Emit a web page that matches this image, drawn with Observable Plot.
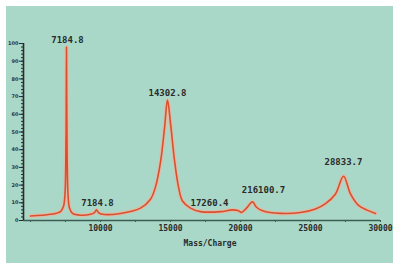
<!DOCTYPE html>
<html><head><meta charset="utf-8">
<script src="https://cdn.jsdelivr.net/npm/d3@7"></script>
<script src="https://cdn.jsdelivr.net/npm/@observablehq/plot@0.6"></script>
<style>
html,body{margin:0;padding:0;background:#fff;width:393px;height:263px;overflow:hidden;}
#wrap{position:absolute;left:6px;top:6px;width:387px;height:257px;background:#a9d8c8;}
#wrap svg{display:block;}
</style></head><body><div id="wrap"></div>
<script>
const mass = [5000, 6429, 7143, 7357, 7464, 7536, 7571, 7607, 7679, 7786, 8000, 8571, 9286, 9571, 9714, 9857, 10143, 11429, 12857, 13571, 13929, 14286, 14571, 14786, 15000, 15286, 15571, 15857, 16429, 17143, 18571, 19429, 19857, 20071, 20429, 20857, 21143, 21571, 22857, 24286, 25357, 26071, 26786, 27357, 27857, 28429, 29000, 29643];
const intensity = [2.5, 3.5, 5, 8, 15, 45, 98, 45, 15, 7, 4, 3, 3.5, 4.5, 6, 4.5, 3.5, 4, 7, 12, 19, 33, 52, 68, 55, 34, 19, 11, 7, 5, 5, 6, 5.5, 4.5, 7, 10.5, 7.5, 5.5, 4, 4.5, 6.5, 9.5, 15, 25, 15, 8.5, 6, 4];
const labelText = ["7184.8", "7184.8", "14302.8", "17260.4", "216100.7", "28833.7"];
const labelMass = [7643, 9786, 14786, 17786, 21643, 27357];
const labelValue = [101.7, 9.6, 71.8, 9.6, 16.9, 32.8];
const xTickValues = [10000, 15000, 20000, 25000, 30000];
const xMinorTicks = [5000, 7500, 10000, 12500, 15000, 17500, 20000, 22500, 25000, 27500, 30000];
const yTickValues = [0, 10, 20, 30, 40, 50, 60, 70, 80, 90, 100];
const yMinorTicks = d3.range(0, 101, 2);
const xTitle = "Mass/Charge";

const spectrum = mass.map((m, i) => ({m, v: intensity[i]}));
const labels = labelText.map((t, i) => ({t, m: labelMass[i], v: labelValue[i]}));

const chart = Plot.plot({
  width: 387, height: 257,
  marginLeft: 17, marginRight: 13, marginTop: 37, marginBottom: 43,
  style: {background: "transparent", color: "#333"},
  x: {domain: [4500, 30000]},
  y: {domain: [0, 100]},
  marks: [
    Plot.ruleY([0], {stroke: "#3d5c52", strokeWidth: 1.4}),
    Plot.ruleX([4500], {stroke: "#2b2b2b", strokeWidth: 1.6}),
    Plot.axisX({ticks: xMinorTicks, tickSize: 2, text: null, label: null, stroke: "#3d5c52"}),
    Plot.axisX({ticks: xTickValues, tickSize: 0, tickPadding: 5, tickFormat: d => String(d),
      fontSize: 8, fontWeight: "bold", fontFamily: "DejaVu Sans Mono", fill: "#2a2a2a", label: null, letterSpacing: "0.4px"}),
    Plot.axisY({ticks: yMinorTicks, tickSize: 2, text: null, label: null, stroke: "#2b2b2b"}),
    Plot.axisY({ticks: yTickValues, tickSize: 4, tickPadding: 1, fontSize: 5, fontWeight: "bold",
      fontFamily: "DejaVu Sans", fill: "#333", stroke: "#2b2b2b", label: null}),
    Plot.line(spectrum, {x: "m", y: "v", curve: "catmull-rom", stroke: "#f2b29a", strokeWidth: 4, strokeOpacity: 0.7}),
    Plot.line(spectrum, {x: "m", y: "v", curve: "catmull-rom", stroke: "#d9502f", strokeWidth: 1.6}),
    Plot.text(labels, {x: "m", y: "v", text: "t", fontSize: 9, fontWeight: "bold",
      fontFamily: "DejaVu Sans Mono", fill: "#2a2a2a", letterSpacing: "1.7px"}),
    Plot.text([xTitle], {frameAnchor: "bottom", dy: 25, dx: 8, fontSize: 8, fontWeight: "bold",
      fontFamily: "DejaVu Sans Mono", fill: "#2a2a2a", letterSpacing: "0.9px"})
  ]
});
document.getElementById("wrap").appendChild(chart);
</script>
</body></html>
